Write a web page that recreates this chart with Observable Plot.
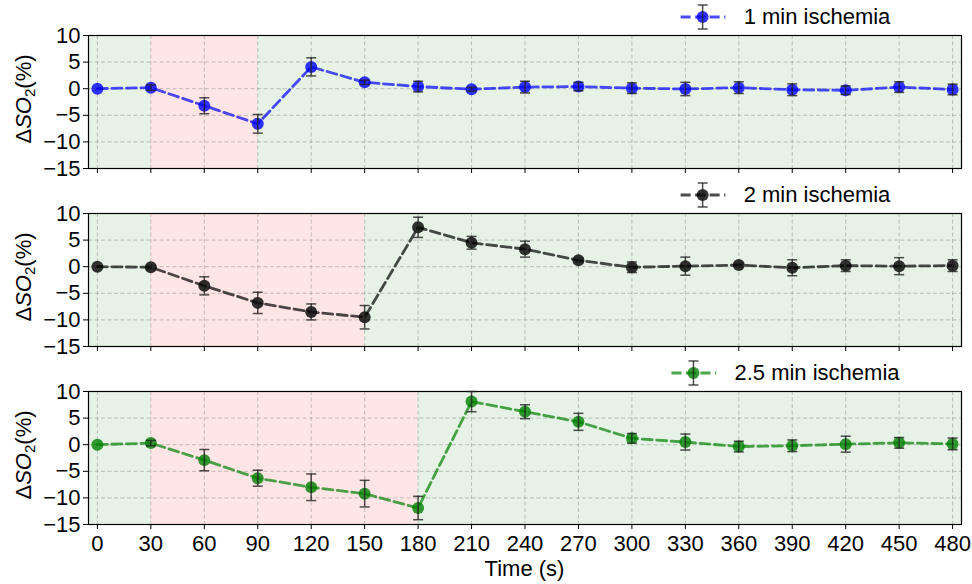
<!DOCTYPE html>
<html>
<head>
<meta charset="utf-8">
<script src="https://cdn.jsdelivr.net/npm/d3@7"></script>
<script src="https://cdn.jsdelivr.net/npm/@observablehq/plot@0.6"></script>
<style>
  html, body { margin: 0; padding: 0; background: white; }
  #chart { position: relative; width: 972px; height: 584px; overflow: hidden;
           font-family: 'Liberation Sans', Arial, Helvetica, sans-serif; color: black; }
  .panel { position: absolute; left: 0; }
  .ylab { position: absolute; white-space: nowrap; font-size: 22px;
          transform: translate(-50%, -50%) rotate(-90deg); }
  .ylab sub { font-size: 15px; vertical-align: -4px; line-height: 0; }
  .legend { position: absolute; display: flex; align-items: center; gap: 18px;
            transform: translate(-50%, -50%); font-size: 22px; white-space: nowrap; }
  .xlab { position: absolute; font-size: 22px; transform: translate(-50%, -50%); white-space: nowrap; }
</style>
</head>
<body>
<div id="chart"></div>
<script>
// ---------------- data ----------------
const times = [0, 30, 60, 90, 120, 150, 180, 210, 240, 270, 300, 330, 360, 390, 420, 450, 480];

const mean1 = [0, 0.2, -3.2, -6.6, 4.1, 1.2, 0.4, -0.1, 0.3, 0.4, 0.1, -0.05, 0.2, -0.2, -0.3, 0.3, -0.15];
const err1  = [0, 0.5, 1.5, 1.75, 1.7, 0.4, 1.0, 0.35, 1.1, 0.8, 1.0, 1.25, 1.1, 1.1, 0.8, 1.0, 1.0];

const mean2 = [0, -0.1, -3.6, -6.8, -8.5, -9.5, 7.4, 4.5, 3.3, 1.2, -0.1, 0.1, 0.3, -0.2, 0.2, 0.1, 0.2];
const err2  = [0, 0.4, 1.7, 2.0, 1.5, 2.2, 1.9, 1.2, 1.5, 0.4, 1.0, 1.7, 0.4, 1.5, 1.1, 1.6, 1.1];

const mean3 = [0, 0.3, -2.9, -6.3, -8.0, -9.2, -11.9, 8.1, 6.2, 4.3, 1.2, 0.5, -0.35, -0.2, 0.1, 0.35, 0.15];
const err3  = [0, 0.5, 2.0, 1.5, 2.5, 2.5, 2.2, 1.9, 1.3, 1.6, 0.9, 1.5, 1.0, 1.1, 1.5, 1.0, 1.1];

const seriesLabels = ["1 min ischemia", "2 min ischemia", "2.5 min ischemia"];
const seriesColors = ["blue", "black", "green"];
const ischemiaStart = 30;
const ischemiaEnd = [90, 150, 180];
const yTicks = [-15, -10, -5, 0, 5, 10];
const xDomain = [-5, 485];
const yDomain = [-15, 10];
const xLabel = "Time (s)";

// ---------------- layout ----------------
const means = [mean1, mean2, mean3];
const errs = [err1, err2, err3];
const frameTops = [35, 213, 391];
const frameH = 133;
const W = 972, ML = 88, MR = 11;
const font = "'Liberation Sans', Arial, Helvetica, sans-serif";
const chart = document.getElementById("chart");

const capSymbol = {
  draw(ctx, size) {
    const r = Math.sqrt(size / Math.PI);
    ctx.moveTo(-r, 0);
    ctx.lineTo(r, 0);
  }
};
const fmtY = d => (d < 0 ? "\u2212" + Math.abs(d) : String(d));

for (let i = 0; i < 3; i++) {
  const isLast = i === 2;
  const color = seriesColors[i];
  const rows = times.map((t, j) => ({t, m: means[i][j], e: errs[i][j]}));
  const withErr = rows.filter(d => d.e > 0);
  const restSpans = [{x1: xDomain[0], x2: ischemiaStart}, {x1: ischemiaEnd[i], x2: xDomain[1]}];
  const ischSpans = [{x1: ischemiaStart, x2: ischemiaEnd[i]}];
  const mt = 2, mb = isLast ? 40 : 8;

  const svg = Plot.plot({
    width: W,
    height: mt + frameH + mb,
    marginLeft: ML, marginRight: MR, marginTop: mt, marginBottom: mb,
    style: {fontFamily: font, fontSize: "22px", background: "transparent", color: "black", overflow: "visible"},
    x: {domain: xDomain},
    y: {domain: yDomain},
    marks: [
      Plot.rect(restSpans, {x1: "x1", x2: "x2", y1: yDomain[0], y2: yDomain[1], fill: "green", fillOpacity: 0.1}),
      Plot.rect(ischSpans, {x1: "x1", x2: "x2", y1: yDomain[0], y2: yDomain[1], fill: "red", fillOpacity: 0.1}),
      Plot.gridX(times, {stroke: "#808080", strokeOpacity: 0.45, strokeWidth: 1, strokeDasharray: "4,2.5"}),
      Plot.gridY(yTicks, {stroke: "#808080", strokeOpacity: 0.45, strokeWidth: 1, strokeDasharray: "4,2.5"}),
      Plot.axisX(times, {tickSize: 5, tickPadding: 6, label: null,
                         tickFormat: isLast ? (d => String(d)) : (() => "")}),
      Plot.axisY(yTicks, {tickSize: 5, tickPadding: 3, label: null, tickFormat: fmtY}),
      Plot.frame({stroke: "black", strokeWidth: 1.2}),
      Plot.line(rows, {x: "t", y: "m", stroke: color, strokeOpacity: 0.7, strokeWidth: 2.8, strokeDasharray: "10,4.5"}),
      Plot.dot(rows, {x: "t", y: "m", r: 6, fill: color, fillOpacity: 0.8, stroke: "none"}),
      Plot.ruleX(withErr, {x: "t", y1: d => d.m - d.e, y2: d => d.m + d.e, stroke: "#222", strokeOpacity: 0.8, strokeWidth: 1.5}),
      Plot.dot(withErr, {x: "t", y: d => d.m + d.e, r: 5, symbol: capSymbol, fill: "none", stroke: "#222", strokeOpacity: 0.8, strokeWidth: 1.5}),
      Plot.dot(withErr, {x: "t", y: d => d.m - d.e, r: 5, symbol: capSymbol, fill: "none", stroke: "#222", strokeOpacity: 0.8, strokeWidth: 1.5})
    ]
  });

  const holder = document.createElement("div");
  holder.className = "panel";
  holder.style.top = (frameTops[i] - mt) + "px";
  holder.appendChild(svg);
  chart.appendChild(holder);

  // y label
  const yl = document.createElement("div");
  yl.className = "ylab";
  yl.style.left = "24px";
  yl.style.top = (frameTops[i] + frameH / 2 - 3) + "px";
  yl.innerHTML = "\u0394<i>SO</i><sub>2</sub>(%)";
  chart.appendChild(yl);

  // legend
  const lg = document.createElement("div");
  lg.className = "legend";
  lg.style.left = "785px";
  lg.style.top = (frameTops[i] - 18) + "px";
  const ns = "http://www.w3.org/2000/svg";
  const sym = document.createElementNS(ns, "svg");
  sym.setAttribute("width", "46");
  sym.setAttribute("height", "28");
  sym.innerHTML =
    `<line x1="0" y1="14" x2="46" y2="14" stroke="${color}" stroke-opacity="0.7" stroke-width="2.8" stroke-dasharray="10,4.5" stroke-dashoffset="-1"/>` +
    `<circle cx="23" cy="14" r="6" fill="${color}" fill-opacity="0.8"/>` +
    `<line x1="23" y1="2" x2="23" y2="26" stroke="#222" stroke-opacity="0.8" stroke-width="1.5"/>` +
    `<line x1="18" y1="2" x2="28" y2="2" stroke="#222" stroke-opacity="0.8" stroke-width="1.5"/>` +
    `<line x1="18" y1="26" x2="28" y2="26" stroke="#222" stroke-opacity="0.8" stroke-width="1.5"/>`;
  lg.appendChild(sym);
  const tx = document.createElement("span");
  tx.textContent = seriesLabels[i];
  lg.appendChild(tx);
  chart.appendChild(lg);
}

const xl = document.createElement("div");
xl.className = "xlab";
xl.style.left = ((ML + (W - MR)) / 2) + "px";
xl.style.top = "569px";
xl.textContent = xLabel;
chart.appendChild(xl);
</script>
</body>
</html>
